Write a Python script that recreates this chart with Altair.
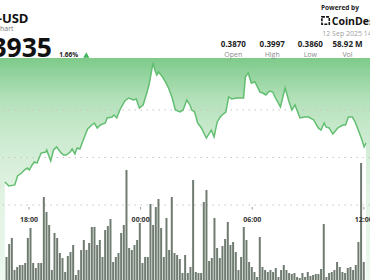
import altair as alt
import numpy as np
import pandas as pd

# ---------------- data ----------------
line_times = ["16:42","16:55","17:14","17:23","17:36","17:45","17:55","18:01","18:10","18:17",
              "18:26","18:39","18:54","18:57","19:10","19:19","19:29","19:41","19:51","20:00",
              "20:13","20:19","20:28","20:35","20:44","21:00","21:09","21:19","21:31","21:40",
              "21:50","22:06","22:12","22:28","22:34","22:43","22:53","23:09","23:21","23:37",
              "23:46","23:56","00:08","00:18","00:27","00:40","00:46","00:52","00:58","01:11",
              "01:20","01:30","01:42","01:52","02:07","02:17","02:29","02:39","02:45","02:54",
              "03:04","03:16","03:32","03:48","03:57","04:07","04:19","04:35","04:44","04:54",
              "05:10","05:32","05:38","05:47","05:57","06:09","06:25","06:34","06:44","06:56",
              "07:06","07:15","07:31","07:46","07:59","08:08","08:18","08:34","08:49","09:02",
              "09:18","09:33","09:42","09:52","09:58","10:08","10:20","10:36","10:52","11:01",
              "11:10","11:23","11:32","11:42","11:54","12:01","12:07"]
line_prices = [0.38742,0.38700,0.38711,0.38805,0.38837,0.38868,0.38889,0.38868,0.38921,0.38953,
               0.38942,0.39047,0.39058,0.39079,0.38963,0.39079,0.39111,0.39058,0.39026,0.39026,
               0.39058,0.39089,0.39037,0.39100,0.39089,0.39226,0.39300,0.39332,0.39363,0.39311,
               0.39342,0.39363,0.39416,0.39426,0.39447,0.39416,0.39500,0.39595,0.39626,0.39605,
               0.39616,0.39521,0.39553,0.39658,0.39763,0.39995,0.39921,0.39868,0.39900,0.39847,
               0.39795,0.39732,0.39626,0.39500,0.39479,0.39500,0.39605,0.39553,0.39500,0.39479,
               0.39363,0.39311,0.39205,0.39289,0.39216,0.39374,0.39437,0.39479,0.39637,0.39616,
               0.39626,0.39626,0.39847,0.39889,0.39784,0.39795,0.39689,0.39679,0.39658,0.39700,
               0.39689,0.39626,0.39532,0.39732,0.39584,0.39500,0.39553,0.39416,0.39426,0.39426,
               0.39395,0.39311,0.39289,0.39363,0.39321,0.39311,0.39247,0.39311,0.39342,0.39342,
               0.39426,0.39426,0.39374,0.39289,0.39184,0.39111,0.39153]

# volume bars (millions), consecutive intervals from bar_start
bar_start = "2025-09-11 16:47:22"
bar_step = "516s"
volumes = [0.46,0.72,0.84,0.20,0.26,0.30,0.30,0.34,0.84,1.04,
           0.34,0.24,0.34,0.34,1.66,1.36,1.10,0.20,0.94,0.84,
           0.54,0.44,0.16,0.48,0.56,0.70,0.10,0.20,0.60,0.80,
           0.60,0.74,1.06,1.06,0.70,0.80,0.46,1.00,1.08,1.22,
           0.36,0.46,0.54,0.94,1.10,2.20,0.64,0.60,0.70,0.80,
           1.14,0.34,0.46,0.46,1.52,1.10,1.46,1.62,1.04,0.46,
           1.24,0.60,1.66,0.54,0.50,0.42,0.14,0.50,0.14,0.26,
           2.00,0.16,0.14,0.14,1.56,1.80,0.38,0.44,1.24,0.64,
           0.44,0.68,0.82,1.16,0.70,0.76,0.56,0.20,0.46,1.06,
           0.80,0.36,0.26,0.16,0.06,0.86,0.26,0.20,0.16,0.20,
           0.16,0.24,0.06,0.20,0.30,0.20,0.14,0.12,0.14,0.06,
           0.04,0.14,0.06,0.16,0.08,0.10,0.12,0.12,0.22,1.12,
           0.06,0.14,0.16,0.20,0.36,0.26,0.16,0.14,0.24,0.26,
           0.20,0.30,0.76,2.34,0.36]

grid_prices = [0.385, 0.390, 0.395]
axis_labels = ["18:00", "00:00", "06:00", "12:00"]
axis_times = ["2025-09-11T18:00:00", "2025-09-12T00:00:00",
              "2025-09-12T06:00:00", "2025-09-12T12:00:00"]

stat_values = ["0.3870", "0.3997", "0.3860", "58.92 M"]
stat_names = ["Open", "High", "Low", "Vol"]

# ---------------- tables ----------------
def stamp(hm):
    day = "2025-09-11" if int(hm[:2]) >= 16 else "2025-09-12"
    return f"{day}T{hm}:00"

line_df = pd.DataFrame({"t": [stamp(h) for h in line_times], "p": line_prices})
bar_df = pd.DataFrame({
    "t": pd.date_range(bar_start, periods=len(volumes), freq=bar_step).strftime("%Y-%m-%dT%H:%M:%S"),
    "v": volumes,
})
grid_df = pd.DataFrame({"p": grid_prices})
axis_df = pd.DataFrame({"t": axis_times, "lab": axis_labels})

# background fill gradient (style): vertical colour profile of the area fill
grad_y = [60, 75, 100, 130, 160, 200, 260, 280]
grad_rgb = [(0x80, 0xcb, 0x8c), (0x94, 0xd4, 0x9f), (0xb4, 0xe1, 0xba), (0xc8, 0xe9, 0xcc),
            (0xd6, 0xee, 0xd9), (0xe2, 0xf3, 0xe4), (0xea, 0xf7, 0xec), (0xee, 0xf9, 0xef)]
band_rows = []
for yy in range(58, 280):
    rgb = [int(round(np.interp(yy + 0.5, grad_y, [c[k] for c in grad_rgb]))) for k in range(3)]
    band_rows.append({"y1": yy, "y2": yy + 1.6, "c": "#%02x%02x%02x" % tuple(rgb)})
band_df = pd.DataFrame(band_rows)

# ---------------- scales ----------------
x_dom = [alt.DateTime(year=2025, month=9, date=11, hours=16, minutes=42, seconds=30),
         alt.DateTime(year=2025, month=9, date=12, hours=12, minutes=3, seconds=48)]
xs = alt.Scale(domain=x_dom)
ps = alt.Scale(domain=[0.377105, 0.406579], zero=False, nice=False)
vs = alt.Scale(domain=[0, 5.6], zero=True, nice=False)

FONT = "Open Sans"
X = alt.X("t:T", scale=xs, axis=None)

bands = alt.Chart(band_df).mark_rect(strokeWidth=0, opacity=1).encode(
    x=alt.value(0), x2=alt.value(370),
    y=alt.Y("y1:Q", scale=None, axis=None), y2="y2:Q",
    color=alt.Color("c:N", scale=None, legend=None))

mask = alt.Chart(line_df).mark_area(color="white", opacity=1, interpolate="linear").encode(
    x=X, y=alt.Y("p:Q", scale=ps, axis=None), y2=alt.value(-2))

grid = alt.Chart(grid_df).mark_rule(
    color="#c4c4c4", strokeDash=[1.5, 4.5], strokeWidth=1
).encode(y=alt.Y("p:Q", scale=ps, axis=None))

line = alt.Chart(line_df).mark_line(
    color="#62be71", strokeWidth=1.5, interpolate="linear"
).encode(x=X, y=alt.Y("p:Q", scale=ps, axis=None))

bars = alt.Chart(bar_df).mark_bar(
    color="#6f7b70", width=2.0
).encode(x=X, y=alt.Y("v:Q", scale=vs, axis=None), y2=alt.value(280))

ticks = alt.Chart(axis_df).mark_rule(color="#9a9a9a", strokeWidth=1).encode(
    x=X, y=alt.value(207), y2=alt.value(209.5))

tlabels = alt.Chart(axis_df).mark_text(
    font=FONT, fontSize=7, fontWeight="bold", color="#333333",
    align="center", baseline="alphabetic"
).encode(x=X, y=alt.value(222.3), text="lab:N")


def txt(s, x, y, size, weight="normal", color="#222222", align="left"):
    return alt.Chart(pd.DataFrame({"s": [s]})).mark_text(
        font=FONT, fontSize=size, fontWeight=weight, color=color,
        align=align, baseline="alphabetic"
    ).encode(x=alt.value(x), y=alt.value(y), text="s:N")


header = [
    txt("XLM-USD", 28.5, 22.7, 13, "bold", "#111111", "right"),
    txt("XLM Chart", 13.5, 31, 7, "normal", "#777777", "right"),
    txt("0.3935", 52, 57.3, 26.5, "bold", "#111111", "right"),
    txt("1.66%", 59.3, 57.3, 6.5, "bold", "#222222", "left"),
    txt("Powered by", 321, 9.5, 6.5, "bold", "#222222", "left"),
    txt("CoinDesk", 331.7, 24.5, 10.5, "bold", "#111111", "left"),
    txt("12 Sep 2025 14:00 UTC", 322.3, 36, 7, "normal", "#a0a0a0", "left"),
]
stat_x = [233.3, 272.2, 310.3, 347.5]
for val, name, sx in zip(stat_values, stat_names, stat_x):
    header.append(txt(val, sx, 46.7, 8, "bold", "#222222", "center"))
    header.append(txt(name, sx, 56.5, 7, "normal", "#8a8a8a", "center"))

tri = alt.Chart(pd.DataFrame({"k": [1]})).mark_point(
    shape="triangle-up", filled=True, color="#3fb55a", size=38, opacity=1
).encode(x=alt.value(86.3), y=alt.value(55))

logo = alt.Chart(pd.DataFrame({"k": [1]})).mark_point(
    shape="square", filled=False, color="#111111", size=55, strokeWidth=1.6,
    strokeDash=[3, 1.2], opacity=1
).encode(x=alt.value(325.6), y=alt.value(20.6))

chart = alt.layer(bands, mask, grid, line, bars, ticks, tlabels, tri, logo, *header).resolve_scale(
    y="independent", color="independent"
).properties(
    width=370, height=280, padding=0, autosize=alt.AutoSizeParams(type="none"),
    background="white"
).configure_view(stroke=None)

chart.save("out.html", embed_options={"renderer": "svg", "actions": False})
